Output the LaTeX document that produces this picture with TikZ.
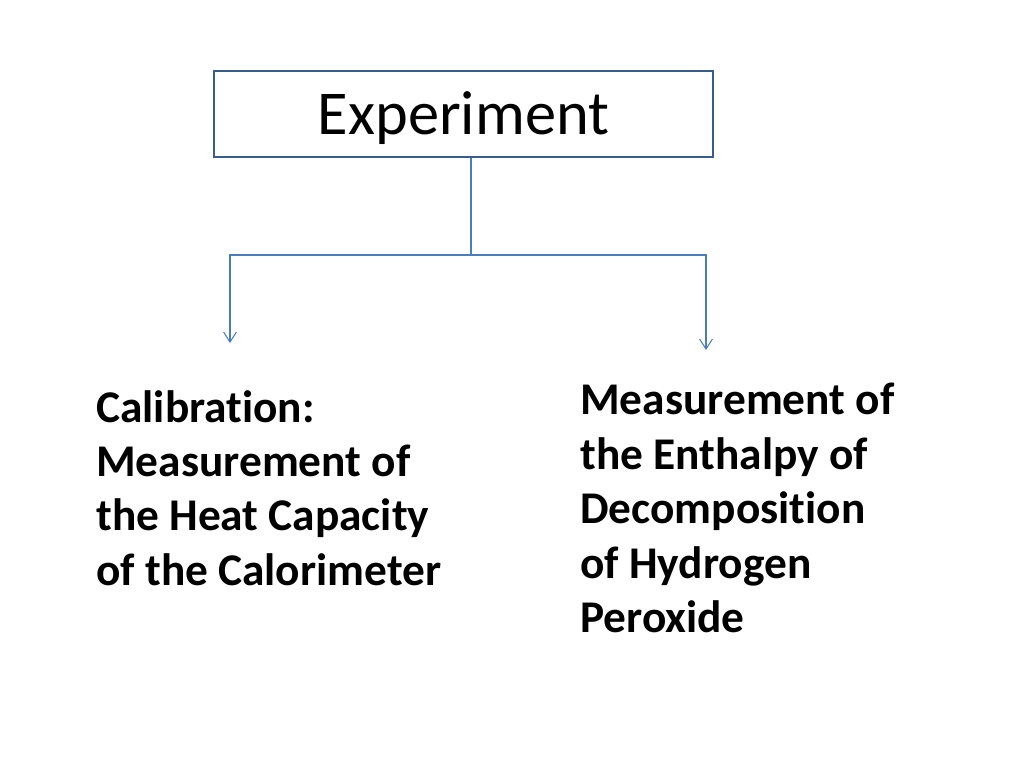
\documentclass[tikz,border=0pt]{standalone}
\usepackage{fontspec}
\setmainfont{Carlito}[Ligatures=NoCommon]
\usetikzlibrary{arrows.meta,positioning}
\definecolor{boxline}{HTML}{385D8A}
\definecolor{linkline}{HTML}{4A7EBB}

\begin{document}
\begin{tikzpicture}[x=0.0248cm,y=-0.0248cm,
        titlebox/.style={draw=boxline,line width=1.5pt,inner sep=0,
            minimum width=12.38cm,minimum height=2.13cm,
            text height=1.33cm,text depth=0.31cm,
            font=\fontsize{44}{53}\selectfont},
        link/.style={draw=linkline,line width=0.75pt},
        tip/.style={-{Straight Barb[length=7pt,width=9pt,line width=0.75pt]}},
        branchtext/.style={align=left,anchor=north west,inner sep=0,
            font=\fontsize{32}{38.4}\selectfont\bfseries}]
        \useasboundingbox[fill=white] (0,0) rectangle (1024,768);

        \node[titlebox] (exp) at (463.5,114) {Experiment};

        \coordinate (fork) at (471,255);
        \coordinate (caltip) at (230,343);
        \coordinate (meatip) at (706,350);

        \node[branchtext] (cal) at (96,390)
            {Calibration:\\Measurement of\\the Heat Capacity\\of the Calorimeter};
        \node[branchtext] (mea) at (580,383)
            {Measurement of\\the Enthalpy of\\Decomposition\\of Hydrogen\\Peroxide};

        \draw[link]
            (exp.south -| fork) -- (fork)
            ;
        \draw[link,tip] (fork) -| (caltip);
        \draw[link,tip] (fork) -| (meatip);
    \end{tikzpicture}
\end{document}
